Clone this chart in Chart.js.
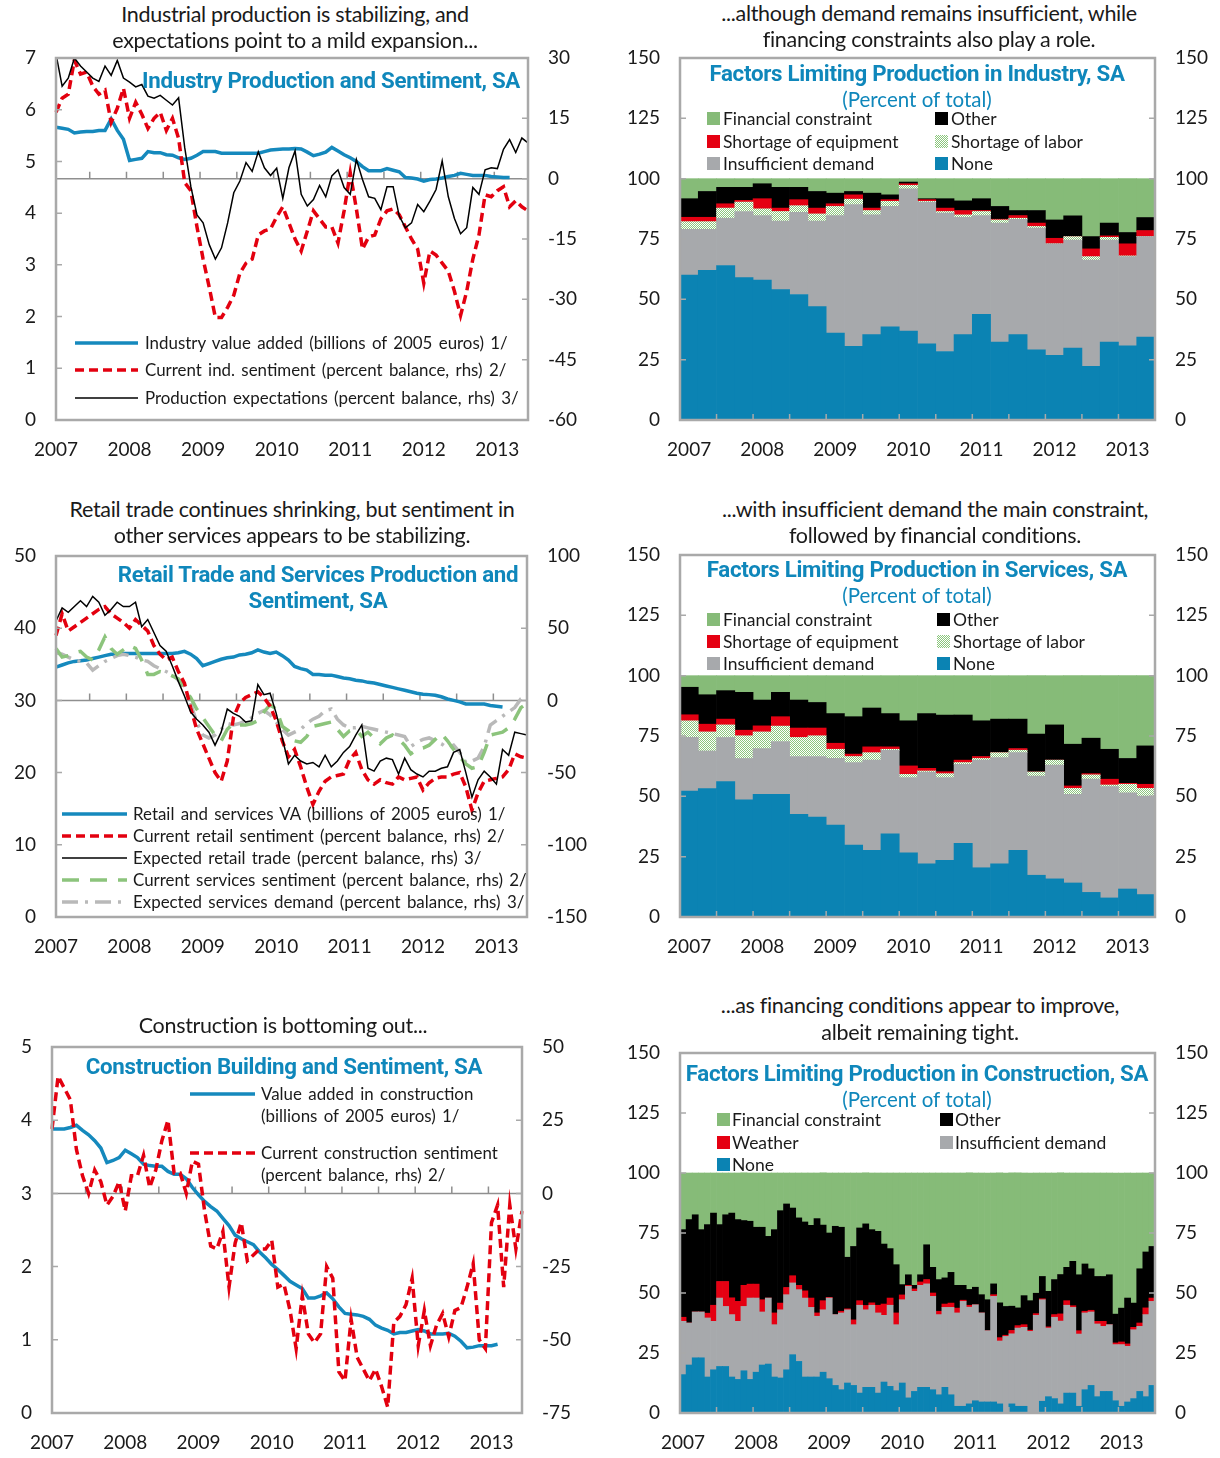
<!DOCTYPE html>
<html>
<head>
<meta charset="utf-8">
<title>Production and sentiment</title>
<script src="https://cdn.jsdelivr.net/npm/chart.js@4.4.1/dist/chart.umd.min.js"></script>
<style>
  body { margin:0; background:#fff; }
  #page { position:relative; width:1220px; height:1458px; overflow:hidden; font-family:Lato, "Open Sans", sans-serif; color:#1a1a1a; }
  canvas { position:absolute; }
  .t { position:absolute; white-space:nowrap; line-height:1; }
  .head { font-size:21.5px; letter-spacing:-0.3px; }
  .ttl { font-family:Roboto, sans-serif; font-size:22.3px; font-weight:700; letter-spacing:-0.3px; color:#0f87bb; }
  .sub { font-size:20.5px; color:#0f87bb; }
  .lg { font-size:16.9px; word-spacing:2px; }
  .lg2 { font-size:17.5px; }
  .sw { position:absolute; width:13px; height:13px; }
</style>
</head>
<body>
<div id="page">
  <canvas id="c1" width="600" height="426" style="left:0;top:44px"></canvas>
  <canvas id="c2" width="615" height="426" style="left:605px;top:44px"></canvas>
  <canvas id="c3" width="600" height="424" style="left:0;top:542px"></canvas>
  <canvas id="c4" width="615" height="425" style="left:605px;top:541px"></canvas>
  <canvas id="c5" width="600" height="425" style="left:0;top:1033px"></canvas>
  <canvas id="c6" width="615" height="419" style="left:605px;top:1039px"></canvas>
</div>
<script>
// ---- data ----
const years = ['2007', '2008', '2009', '2010', '2011', '2012', '2013'];
const months = [];   // Jan 2007 .. Jun 2013
years.forEach(y => { for (let m = 1; m <= 12; m++) if (months.length < 78) months.push(y + '-' + String(m).padStart(2, '0')); });
const quarters = []; // 2007Q1 .. 2013Q2
years.forEach(y => { for (let q = 1; q <= 4; q++) if (quarters.length < 26) quarters.push(y + 'Q' + q); });

// industry, monthly
const indValueAdded = [5.66,5.64,5.62,5.55,5.57,5.58,5.58,5.6,5.6,5.82, 5.6,5.43,5.02,5.04,5.06,5.19,5.17,5.17,5.13,5.12,
  5.07,5.04,5.06,5.12,5.19,5.19,5.19,5.16,5.16,5.16, 5.16,5.16,5.16,5.16,5.19,5.22,5.23,5.24,5.24,5.25,
  5.24,5.18,5.11,5.14,5.18,5.27,5.2,5.13,5.07,5.0, 4.9,4.82,4.82,4.82,4.86,4.83,4.8,4.69,4.68,4.66,
  4.62,4.65,4.66,4.68,4.71,4.73,4.77,4.75,4.73,4.73, 4.73,4.71,4.7,4.69,4.69,null,null,null];
const indSentiment = [16.5,20,21,29.5,26,26.5,23,21,22,14, 17.5,22.5,15,19,16,12.5,15,16.5,12,15,
  10,-1,-3,-12,-20,-27,-34.5,-34.5,-32,-29, -23.5,-21,-20,-14,-13,-12.5,-9.5,-7,-11,-15,
  -18,-13,-8,-10,-12,-12,-16,-8,1.5,-7.5, -17.5,-14.5,-14,-10,-8,-7.5,-9,-12,-15,-17.5,
  -26,-18,-19,-21,-23,-28,-34,-28,-20,-14, -4,-4.5,-3,-2,-7,-5.5,-7,-8];
const indExpectations = [31,23,25,30,28,26.5,25,24.2,28,25.7, 29.4,25,24,22.8,23.4,20.5,20,20.7,19.5,18.3,
  20.1,7.7,-2,-9,-11,-16.4,-20,-17.2,-11,-3.5, -0.6,4,1.8,6.7,2.7,0.8,2.6,-4.9,2.7,6.9,
  -3.9,-6.8,-5.2,-1.7,-4.5,0.7,2.2,-2.2,-3.9,4.8, -0.2,-4.5,-4.9,-7.7,-2,-2,-9.3,-12.2,-11,-6.4,
  -8.2,-5.6,-2.7,4.4,-4.5,-9.9,-13.7,-12.2,-2.2,-3.9, 2.2,2.7,2.5,7.3,9.7,6.5,10.1,8.9];

// industry limiting factors, quarterly (percent of total)
const indNone      = [60,62,64,59,58,54,52,47,36,30.5,35.4,38.6,36.8,31.6,28.4,35.4,43.8,32.3,35.4,29.1,26.8,29.8,22.2,32.3,30.7,34.4];
const indDemand    = [19,17,19.6,27.4,26.7,28.4,34,35.4,48.7,58.8,49.6,49.9,59,58.7,57.3,48.6,40.9,49.3,47.8,50.4,46.2,44.8,44.1,42.3,37,41.6];
const indLabor     = [3.2,3.2,4.2,3.9,2.8,4,2.8,3,3.8,2.2,1.8,2.1,1.4,0.3,0.7,1,1.7,1.3,0.4,0.7,0,1.4,1.4,1.1,0.3,0];
const indEquipment = [1.8,1.8,1.8,0.7,4.2,1.4,2.5,2.4,1.1,1.8,1,0.7,0.7,0.7,1.4,1.8,0.4,0.3,1.1,1.4,2.3,0,3.2,0.6,5,2.5];
const indOther     = [7.7,10.7,6.8,5.4,6.2,8.6,5.1,6.9,4.4,1.4,6.2,2,0.7,0.4,3.9,4,4.9,5.3,2.1,5.2,7.6,8.6,5.1,5.3,4.7,5.4];
const indFinancial = [8.3,5.3,3.6,3.6,2.1,3.6,3.6,5.3,6,5.3,6,6.7,1.4,8.3,8.3,9.2,8.3,11.5,13.2,13.2,17.1,15.4,24,18.4,22.3,16.1];

// retail and services, monthly
const retailVA = [34.6,34.9,35.2,35.4,35.5,35.6,35.8,36,36.2,36.4, 36.4,36.5,36.5,36.5,36.5,36.5,36.5,36.5,36.5,36.5,
  36.6,36.8,36.4,35.8,34.8,35.1,35.4,35.7,35.9,36, 36.3,36.4,36.6,37,36.7,36.5,36.7,36.2,35.6,34.7,
  34.4,34.2,33.6,33.6,33.5,33.5,33.3,33.1,33,32.8, 32.7,32.5,32.4,32.2,32,31.8,31.6,31.4,31.2,31,
  30.85,30.8,30.7,30.5,30.2,30,29.8,29.5,29.5,29.5, 29.5,29.3,29.2,29.1,null,null,null,null];
const retailSentiment = [45,60,48,51,54,57,60,63,65,60, 57,54,50,56,52,48,38,32,28,30,
  20,12,-5,-20,-30,-40,-50,-56,-42,-12, -2,2,4,6,2,-4,-14,-28,-39,-34,
  -46,-60,-72,-63,-56,-53,-52,-51,-41,-36, -48,-55,-58,-55,-57,-58,-53,-55,-54,-53,
  -62,-57,-54,-53,-53,-51,-50,-60,-76,-64, -56,-55,-54,-53,-48,-37,-39,-40];
const retailExpected = [55,64,61,65,69,65,72,68,59,63, 68,65,65,68,51,56,47,38,34,24,
  13,3,-8,-13,-17,-22,-31,-22,-6,-9, -11,-15,-14,11,4,5,-9,-26,-44,-38,
  -42,-44,-43,-46,-38,-46,-42,-36,-32,-24, -17,-47,-49,-42,-40,-41,-51,-40,-48,-51,
  -53,-49,-49,-47,-46,-36,-34,-50,-67,-55, -49,-53,-58,-34,-38,-22,-23,-24];
const servicesSentiment = [36,30,31,33,34,30,28,35,44,36, 32,35,38,36,28,18,18,20,19,17,
  15,8,2,-6,-12,-18,-24,-28,-20,-16, -17,-17,-16,-14,-8,-3,-6,-18,-21,-28,
  -29,-25,-18,-17,-16,-15,-20,-25,-21,-20, -25,-22,-26,-30,-26,-24,-27,-31,-37,-34,
  -33,-31,-27,-23,-28,-34,-39,-44,-47,-46, -36,-24,-23,-22,-19,-13,-5,-2];
const servicesDemand = [33,32,30,28,27,26,21,24,27,29, 31,32,31,30,28,27,24,22,20,18,
  14,10,-2,-15,-24,-26,-24,-20,-16,-17, -16,-14,-12,-9,-7,-10,-15,-20,-24,-22,
  -20,-16,-13,-11,-7,-6,-13,-17,-19,-19, -18,-19,-20,-21,-22,-23,-24,-25,-32,-29,
  -27,-26,-28,-30,-33,-31,-36,-43,-42,-40, -32,-17,-14,-11,-8,-5,1,3];

// services limiting factors, quarterly
const svcNone      = [52.2,53.2,56.1,48.5,50.8,50.8,42.5,41.4,38.1,29.8,27.6,34.5,26.6,22,23.5,30.5,20.4,22,27.6,17.3,15.8,14.1,10.2,7.9,11.6,9.3];
const svcDemand    = [22.2,15.6,18.3,17.2,19,21.9,24,25.1,27.6,34.2,37.4,34.6,31.2,38.1,34.3,32.8,44.6,44.1,40.5,41.1,47.2,36.7,46.9,46.1,39.9,40.8];
const svcLabor     = [6.9,7.9,5.2,9.4,6.9,6.4,7.9,8.6,3.8,2.5,3.1,0.4,1.3,0.4,1.6,0.7,0.7,2,1,1.7,2,2.5,1.8,0.7,3.5,3.2];
const svcEquipment = [2.5,3.2,2.4,2.3,2.5,3.9,3.9,3.2,2.5,1,2.4,1,3.5,1.1,0.8,1,0.8,0,0.7,0,0,1,0.5,2.4,0.4,1.7];
const svcOther     = [11.4,12.2,11.8,15.7,10.7,10.1,11.6,10.6,12.3,15.5,16.1,13.8,18.7,22.7,23.5,18.7,14.8,13.9,12.2,15.7,14.6,17.3,14.7,12.4,10.3,15.9];
const svcFinancial = [4.8,7.9,6.2,6.9,10.1,6.9,10.1,11.1,15.7,17,13.4,15.7,18.7,15.7,16.3,16.3,18.7,18,18,24.2,20.4,28.4,25.9,30.5,34.3,29.1];

// construction, monthly
const consVA = [3.88,3.88,3.88,3.9,3.93,3.86,3.8,3.72,3.62,3.42, 3.45,3.49,3.59,3.54,3.49,3.4,3.38,3.37,3.37,3.3,
  3.26,3.26,3.2,3.08,2.98,2.89,2.82,2.76,2.66,2.56, 2.43,2.38,2.34,2.3,2.2,2.12,2.03,1.96,1.88,1.8,
  1.75,1.7,1.57,1.57,1.6,1.64,1.56,1.45,1.36,1.35, 1.34,1.32,1.28,1.2,1.16,1.13,1.08,1.1,1.1,1.12,
  1.14,1.12,1.08,1.08,1.08,1.09,1.05,0.98,0.89,0.9, 0.92,0.92,0.92,0.94,null,null,null,null];
const consSentiment = [22,40,36,32,15,6,0,8,4,-4, -1,4,-6,6,6,13,2,8,18,25,
  7,7,0,11,10,-6,-18,-19,-13,-32, -17,-10,-23,-21,-19,-19,-16,-32,-31,-40,
  -53,-35,-48,-51,-48,-25,-29,-61,-64,-43, -56,-60,-64,-60,-66,-73,-44,-42,-38,-29,
  -52,-40,-52,-45,-41,-49,-40,-39,-32,-24, -50,-53,-10,-4,-32,-4,-19,-6];

// construction limiting factors, monthly
const conNone = [16,20,23,23,15,18,19.4,19.4,15,14, 17.6,14,17,20,20.4,15,14.6,18,24.3,21.5,
  15,15,15,17,14.3,11.5,9.7,12.5,11.5,8.3, 10.7,10.7,8.3,12.9,11.1,9.3,12.5,6.3,9,10.7,
  10.7,9.7,7.6,10.7,7.6,2.8,2.8,3.8,5.1,4.6, 4.6,4.6,3.8,0,3.8,2.8,2.8,0,0,4.9,
  6.8,6,3.8,8.3,8.3,2.8,9.7,11.5,6.8,9, 9,5.1,2.8,4.6,6,9,6.8,11.5];
const conDemand = [22.2,17.5,19.1,19.1,24.6,20.2,28.5,25,26,24.2, 26.8,33.9,30.9,22.1,27.5,21.8,28.4,31.3,29.9,29.9,
  32.9,29,25.3,26,33.6,29.5,32,30.5,25.3,36.6, 32.3,34.2,33.4,27.8,33.8,27.5,34.7,46.5,41.7,42.5,
  43.1,38.9,33.4,33.3,36.4,38.9,43.7,40.3,40,37.1, 29.7,44,26.2,31.9,29.2,32.6,32.9,34,40.7,42.3,
  28.6,33.9,34.5,36.6,35.7,30.1,32,30.6,30.3,27.1, 27.8,23.4,25.7,23.2,28.7,27.1,34.2,35];
const conWeather = [1.7,0,0,0,2,6.7,6.9,10.4,7,8.3, 8.8,5.8,5.8,5.1,0,4.9,2.8,3,3,1.8,
  3,3.9,1.4,3.8,0.3,0,0.7,0.4,2,1.9, 1.8,1,3.2,4.7,3,4.9,2,0.4,1,1.4,
  1.8,1.4,1.4,1.4,1.8,2,0.5,0.8,0,0, 0,0.7,1.4,0.5,1.4,1,1.1,0.5,0.7,0.4,
  0.5,1.1,3,1.9,0.7,1.4,0.7,0.7,1.1,2.1, 0,0.7,1.1,1,1,1.4,2.8,1.4];
const conOther = [36.5,43.1,40.5,34.3,36.9,38.4,23.7,27.8,35.3,34.1, 27,26.2,23.7,30.2,25.7,34.7,38.5,34.8,28.2,28.1,
  28.7,30.3,39.3,31.5,26.8,36.8,35,21.5,30.6,30.3, 34,30.5,30.8,25,20.6,20.1,4.3,4.4,1.5,3,
  14.5,10.7,13.2,10.9,12.8,9.5,6.2,6.6,7.3,7.6, 12.9,4.5,14.5,12,10.1,7.4,12.1,12.3,8.5,9.3,
  14.8,14.6,16.4,13.9,18.5,23.3,19.7,17.3,18.7,18.7, 20.8,12,14.1,19.1,10.1,22.6,23.3,21.5];
const conFinancial = [23.6,19.4,17.4,23.6,21.5,16.7,21.5,17.4,16.7,19.4, 19.9,20.1,22.6,22.6,26.4,23.6,15.7,12.9,14.6,18.7,
  20.4,21.8,19,21.8,25,22.2,22.6,35.1,30.6,22.9, 21.3,23.6,24.3,29.6,31.5,38.2,46.5,42.4,46.8,42.4,
  29.9,39.3,44.4,43.7,41.4,46.8,46.8,48.6,47.6,50.7, 52.8,46.2,54.2,55.6,55.6,56.3,51.1,53.2,50.1,43.1,
  49.3,44.4,42.4,39.3,36.8,42.4,37.9,39.9,43.1,43.1, 42.4,58.8,56.3,52.1,54.2,39.9,32.9,30.6];

// ---- styles ----
const INK = '#1a1a1a';
const BLUE = '#1589bd', RED = '#e3000f', BLACK = '#000', GREEN_LINE = '#8cc47c', GRAY_LINE = '#b9b9b9';
const C_NONE = '#0b83b3', C_DEMAND = '#a7a9ac', C_EQUIP = '#e50012', C_OTHER = '#000', C_FIN = '#86bb78';

Chart.defaults.font.family = 'Lato, "Open Sans", sans-serif';
Chart.defaults.color = INK;
Chart.defaults.animation = false;

function dotPattern() {
  const c = document.createElement('canvas');
  c.width = 2; c.height = 2;
  const g = c.getContext('2d');
  g.fillStyle = '#fff'; g.fillRect(0, 0, 2, 2);
  g.fillStyle = '#8cc77d'; g.fillRect(0, 0, 1, 1); g.fillRect(1, 1, 1, 1);
  return g.createPattern(c, 'repeat');
}
const C_LABOR = dotPattern();

// box, zero line and small inner ticks
const frame = {
  id: 'frame',
  beforeDatasetsDraw(chart, args, o) {
    if (!o.zero) return;
    const {ctx, chartArea: a, scales: s} = chart;
    const y0 = s.y1.getPixelForValue(0);
    ctx.save();
    ctx.strokeStyle = '#8f8f8f'; ctx.lineWidth = 1.5;
    ctx.beginPath();
    ctx.moveTo(a.left, y0); ctx.lineTo(a.right, y0);
    o.xTicks.forEach(v => { const x = s.x.getPixelForValue(v); ctx.moveTo(x, y0); ctx.lineTo(x, y0 - 7); });
    ctx.stroke();
    ctx.restore();
  },
  afterDatasetsDraw(chart, args, o) {
    const {ctx, chartArea: a, scales: s} = chart;
    ctx.save();
    ctx.strokeStyle = '#a9a9a9'; ctx.lineWidth = 1.5;
    ctx.beginPath();
    if (!o.zero) o.xTicks.forEach(v => { const x = s.x.getPixelForValue(v); ctx.moveTo(x, a.bottom); ctx.lineTo(x, a.bottom - 6); });
    s.y.ticks.forEach(t => { const y = s.y.getPixelForValue(t.value); ctx.moveTo(a.left, y); ctx.lineTo(a.left + 6, y); });
    s.y1.ticks.forEach(t => { const y = s.y1.getPixelForValue(t.value); ctx.moveTo(a.right, y); ctx.lineTo(a.right - 6, y); });
    ctx.stroke();
    ctx.lineWidth = 2.5;
    ctx.strokeRect(a.left, a.top, a.right - a.left, a.bottom - a.top);
    ctx.restore();
  }
};

function yearTick(v) { const l = this.getLabelForValue(v); return /-01$|Q1$/.test(l) ? l.slice(0, 4) : ''; }
function halfYears(n, per) { const r = []; for (let i = per - 0.5; i < n - 1; i += per) r.push(i); return r; }

function axes(g, stacked) {
  const tick = {font: {size: 19}, color: INK};
  const hidden = {display: false, drawTicks: false};
  const fitY = w => s => { s.width = w; s.paddingTop = 0; s.paddingBottom = 0; };
  return {
    x: {type: 'category', offset: g.offset, stacked, grid: hidden, border: {display: false},
        ticks: {...tick, autoSkip: false, maxRotation: 0, padding: 18, callback: yearTick},
        afterFit: s => { s.height = g.xh; }},
    y: {type: 'linear', position: 'left', stacked, min: g.l[0], max: g.l[1], grid: hidden, border: {display: false},
        ticks: {...tick, stepSize: g.l[2], padding: 20}, afterFit: fitY(g.lw)},
    y1: {type: 'linear', position: 'right', min: g.r[0], max: g.r[1], grid: hidden, border: {display: false},
        ticks: {...tick, stepSize: g.r[2], padding: 20}, afterFit: fitY(g.rw)}
  };
}

const line = (label, data, color, width, dash, axis, order) => ({label, data, borderColor: color, borderWidth: width,
  borderDash: dash, yAxisID: axis, pointRadius: 0, tension: 0, fill: false, order, borderCapStyle: 'butt'});
const bar = (label, data, color) => ({label, data, backgroundColor: color, borderWidth: 0, barPercentage: 1, categoryPercentage: 1, yAxisID: 'y'});

function lineChart(id, g, datasets) {
  return new Chart(document.getElementById(id), {
    type: 'line',
    data: {labels: months, datasets},
    options: {responsive: false, devicePixelRatio: 1, layout: {padding: {top: g.top}}, scales: axes(g, false),
      plugins: {legend: {display: false}, tooltip: {enabled: false}, frame: {zero: true, xTicks: halfYears(months.length, 6)}}},
    plugins: [frame]
  });
}
function barChart(id, g, labels, datasets, per) {
  return new Chart(document.getElementById(id), {
    type: 'bar',
    data: {labels, datasets},
    options: {responsive: false, devicePixelRatio: 1, layout: {padding: {top: g.top}}, scales: axes(g, true),
      plugins: {legend: {display: false}, tooltip: {enabled: false}, frame: {zero: false, xTicks: halfYears(labels.length + 1, per)}}},
    plugins: [frame]
  });
}

const pct = [0, 150, 25];

lineChart('c1', {top: 14, xh: 50, lw: 56, rw: 72, offset: false, l: [0, 7, 1], r: [-60, 30, 15]}, [
  line('Production expectations', indExpectations, BLACK, 1.5, [], 'y1', 0),
  line('Current ind. sentiment', indSentiment, RED, 3.5, [9, 5], 'y1', 1),
  line('Industry value added', indValueAdded, BLUE, 3.5, [], 'y', 2)
]);

barChart('c2', {top: 14, xh: 50, lw: 75, rw: 65, offset: true, l: pct, r: pct}, quarters, [
  bar('None', indNone, C_NONE),
  bar('Insufficient demand', indDemand, C_DEMAND),
  bar('Shortage of labor', indLabor, C_LABOR),
  bar('Shortage of equipment', indEquipment, C_EQUIP),
  bar('Other', indOther, C_OTHER),
  bar('Financial constraint', indFinancial, C_FIN)
], 2);

lineChart('c3', {top: 14, xh: 49, lw: 56, rw: 73, offset: false, l: [0, 50, 10], r: [-150, 100, 50]}, [
  line('Expected retail trade', retailExpected, BLACK, 1.5, [], 'y1', 0),
  line('Current retail sentiment', retailSentiment, RED, 3.5, [9, 5], 'y1', 1),
  line('Current services sentiment', servicesSentiment, GREEN_LINE, 3.5, [17, 11], 'y1', 2),
  line('Expected services demand', servicesDemand, GRAY_LINE, 3.5, [16, 7, 3, 7], 'y1', 3),
  line('Retail and services VA', retailVA, BLUE, 3.5, [], 'y', 4)
]);

barChart('c4', {top: 14, xh: 49, lw: 75, rw: 65, offset: true, l: pct, r: pct}, quarters, [
  bar('None', svcNone, C_NONE),
  bar('Insufficient demand', svcDemand, C_DEMAND),
  bar('Shortage of labor', svcLabor, C_LABOR),
  bar('Shortage of equipment', svcEquipment, C_EQUIP),
  bar('Other', svcOther, C_OTHER),
  bar('Financial constraint', svcFinancial, C_FIN)
], 2);

lineChart('c5', {top: 14, xh: 45, lw: 52, rw: 78, offset: false, l: [0, 5, 1], r: [-75, 50, 25]}, [
  line('Current construction sentiment', consSentiment, RED, 3.5, [9, 5], 'y1', 0),
  line('Value added in construction', consVA, BLUE, 3.5, [], 'y', 1)
]);

barChart('c6', {top: 14, xh: 45, lw: 75, rw: 65, offset: true, l: pct, r: pct}, months, [
  bar('None', conNone, C_NONE),
  bar('Insufficient demand', conDemand, C_DEMAND),
  bar('Weather', conWeather, C_EQUIP),
  bar('Other', conOther, C_OTHER),
  bar('Financial constraint', conFinancial, C_FIN)
], 6);

// ---- titles and legends ----
const page = document.getElementById('page');
function put(cls, x, y, s, align) {
  const d = document.createElement('div');
  d.className = 't ' + cls;
  d.textContent = s;
  d.style.left = x + 'px';
  d.style.top = y + 'px';
  d.style.transform = 'translate(' + (align === 'c' ? '-50%' : align === 'r' ? '-100%' : '0') + ',-50%)';
  page.appendChild(d);
}
function key(x, y, fill) {
  const d = document.createElement('div');
  d.className = 'sw';
  d.style.left = x + 'px';
  d.style.top = (y - 7) + 'px';
  d.style.background = fill;
  page.appendChild(d);
}
function lineKey(x1, x2, y, color, width, dash) {
  page.insertAdjacentHTML('beforeend', '<svg style="position:absolute;left:' + x1 + 'px;top:' + (y - 5) + 'px" width="' + (x2 - x1) +
    '" height="10"><line x1="0" y1="5" x2="' + (x2 - x1) + '" y2="5" stroke="' + color + '" stroke-width="' + width +
    '" stroke-dasharray="' + (dash.length ? dash.join(' ') : 'none') + '"/></svg>');
}
const DOTS = 'repeating-conic-gradient(#8cc77d 0 25%, #fff 0 50%) 0 0 / 2px 2px';

// panel 1
put('head', 295, 15, 'Industrial production is stabilizing, and', 'c');
put('head', 295, 41, 'expectations point to a mild expansion...', 'c');
put('ttl', 520, 80, 'Industry Production and Sentiment, SA', 'r');
lineKey(75, 138, 343, BLUE, 3.5, []);
lineKey(75, 138, 370, RED, 3.5, [9, 5]);
lineKey(75, 138, 398, BLACK, 1.5, []);
put('lg', 145, 343, 'Industry value added (billions of 2005 euros) 1/');
put('lg', 145, 370, 'Current ind. sentiment (percent balance, rhs) 2/');
put('lg', 145, 398, 'Production expectations (percent balance, rhs) 3/');

// panel 2
put('head', 929, 14, '...although demand remains insufficient, while', 'c');
put('head', 929, 40, 'financing constraints also play a role.', 'c');
put('ttl', 917, 73, 'Factors Limiting Production in Industry, SA', 'c');
put('sub', 917, 99, '(Percent of total)', 'c');
[[707, 119, C_FIN, 'Financial constraint'], [707, 142, C_EQUIP, 'Shortage of equipment'], [707, 164, C_DEMAND, 'Insufficient demand'],
 [935, 119, C_OTHER, 'Other'], [935, 142, DOTS, 'Shortage of labor'], [935, 164, C_NONE, 'None']]
  .forEach(([x, y, c, s]) => { key(x, y, c); put('lg2', x + 16, y, s); });

// panel 3
put('head', 292, 510, 'Retail trade continues shrinking, but sentiment in', 'c');
put('head', 292, 536, 'other services appears to be stabilizing.', 'c');
put('ttl', 318, 574, 'Retail Trade and Services Production and', 'c');
put('ttl', 318, 600, 'Sentiment, SA', 'c');
lineKey(62, 127, 814, BLUE, 3.5, []);
lineKey(62, 127, 836, RED, 3.5, [9, 5]);
lineKey(62, 127, 858, BLACK, 1.5, []);
lineKey(62, 127, 880, GREEN_LINE, 3.5, [17, 11]);
lineKey(62, 127, 902, GRAY_LINE, 3.5, [16, 7, 3, 7]);
put('lg', 133, 814, 'Retail and services VA (billions of 2005 euros) 1/');
put('lg', 133, 836, 'Current retail sentiment (percent balance, rhs) 2/');
put('lg', 133, 858, 'Expected retail trade (percent balance, rhs) 3/');
put('lg', 133, 880, 'Current services sentiment (percent balance, rhs) 2/');
put('lg', 133, 902, 'Expected services demand (percent balance, rhs) 3/');

// panel 4
put('head', 935, 510, '...with insufficient demand the main constraint,', 'c');
put('head', 935, 536, 'followed by financial conditions.', 'c');
put('ttl', 917, 569, 'Factors Limiting Production in Services, SA', 'c');
put('sub', 917, 595, '(Percent of total)', 'c');
[[707, 620, C_FIN, 'Financial constraint'], [707, 642, C_EQUIP, 'Shortage of equipment'], [707, 664, C_DEMAND, 'Insufficient demand'],
 [937, 620, C_OTHER, 'Other'], [937, 642, DOTS, 'Shortage of labor'], [937, 664, C_NONE, 'None']]
  .forEach(([x, y, c, s]) => { key(x, y, c); put('lg2', x + 16, y, s); });

// panel 5
put('head', 283, 1026, 'Construction is bottoming out...', 'c');
put('ttl', 284, 1066, 'Construction Building and Sentiment, SA', 'c');
lineKey(190, 255, 1094, BLUE, 3.5, []);
lineKey(190, 255, 1153, RED, 3.5, [9, 5]);
put('lg', 261, 1094, 'Value added in construction');
put('lg', 261, 1116, '(billions of 2005 euros) 1/');
put('lg', 261, 1153, 'Current construction  sentiment');
put('lg', 261, 1175, '(percent balance, rhs) 2/');

// panel 6
put('head', 920, 1006, '...as financing conditions appear to improve,', 'c');
put('head', 920, 1033, 'albeit remaining tight.', 'c');
put('ttl', 917, 1073, 'Factors Limiting Production in Construction, SA', 'c');
put('sub', 917, 1099, '(Percent of total)', 'c');
[[717, 1120, C_FIN, 'Financial constraint'], [717, 1143, C_EQUIP, 'Weather'], [717, 1165, C_NONE, 'None'],
 [940, 1120, C_OTHER, 'Other'], [940, 1143, C_DEMAND, 'Insufficient demand']]
  .forEach(([x, y, c, s]) => { key(x, y, c); put('lg2', x + 15, y, s); });
</script>
</body>
</html>
